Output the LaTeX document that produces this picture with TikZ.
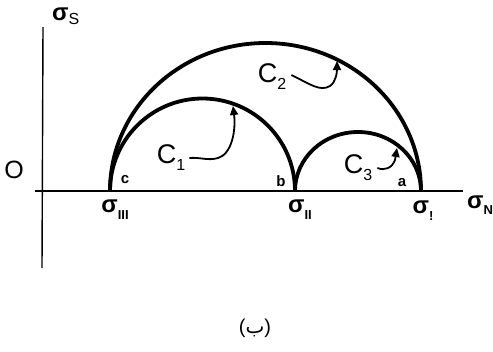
\documentclass[tikz,border=0pt]{standalone}
\usepackage{fontspec}
\setmainfont{Liberation Sans}
\newfontfamily\arabicfont[Script=Arabic]{DejaVu Sans}
\usetikzlibrary{arrows.meta}
\begin{document}
\begin{tikzpicture}[x=1pt,y=-1pt,
  axis/.style={line width=1.4pt},
  circ/.style={line width=3.8pt},
  pointer/.style={line width=1.8pt,-{Triangle[length=9pt,width=8pt]}},
  bigC/.style={font=\fontsize{27}{27}\selectfont,inner sep=0pt},
  small/.style={font=\bfseries\fontsize{15}{15}\selectfont,inner sep=0pt},
  sig/.style={font=\bfseries\fontsize{24}{24}\selectfont,inner sep=0pt}]
\useasboundingbox (0,0) rectangle (493,351);
% axes
\coordinate (ytop) at (43,27);
\coordinate (ybot) at (42,268);
\coordinate (xl) at (35,191);
\coordinate (xr) at (463,191);
\draw[axis] (ybot) -- (ytop);
\draw[axis] (xl) -- (xr);
% points
\coordinate (s3) at (110,191);
\coordinate (s2) at (295,191);
\coordinate (s1) at (421,191);
% circles
\draw[circ] (s3) arc[start angle=180,end angle=360,x radius=155.5,y radius=148];
\draw[circ] (s3) arc[start angle=180,end angle=360,x radius=92.5,y radius=92.5];
\draw[circ] (s2) arc[start angle=180,end angle=360,x radius=63,y radius=59];
% labels on axes
\node[sig,anchor=west] (ls) at (52,16) {σ\raisebox{-4pt}{\fontsize{16}{16}\selectfont\mdseries S}};
\node[font=\fontsize{25}{25}\selectfont,inner sep=0pt] (lo) at (14,170) {O};
\node[sig,anchor=west] (ln) at (467,205) {σ\raisebox{-6pt}{\fontsize{13}{13}\selectfont N}};
\node[sig] (l3) at (115,210) {σ\raisebox{-7pt}{\fontsize{13}{13}\selectfont III}};
\node[sig] (l2) at (300,210) {σ\raisebox{-7pt}{\fontsize{13}{13}\selectfont II}};
\node[sig] (l1) at (423,211) {σ\raisebox{-7pt}{\fontsize{13}{13}\selectfont !}};
\node[small] (pc) at (125,180) {c};
\node[small] (pb) at (281,181) {b};
\node[small] (pa) at (402,183) {a};
% curve labels
\node[bigC] (c1) at (171,158) {C\raisebox{-7pt}{\fontsize{16}{16}\selectfont 1}};
\node[bigC] (c2) at (272,77) {C\raisebox{-7pt}{\fontsize{16}{16}\selectfont 2}};
\node[bigC] (c3) at (358,168) {C\raisebox{-7pt}{\fontsize{16}{16}\selectfont 3}};
% pointers
\coordinate (t1) at (233,106);
\coordinate (t2) at (337,61);
\coordinate (t3) at (397,148);
\draw[pointer] ([xshift=4pt]c1.east) .. controls (200,157) and (208,161) .. (218,158) .. controls (232,154) and (236,130) .. (t1);
\draw[pointer] ([xshift=5pt,yshift=2pt]c2.east) .. controls (310,84) and (320,92) .. (330,86) .. controls (336,82) and (337,72) .. (t2);
\draw[pointer] ([xshift=5pt]c3.east) .. controls (385,171) and (392,168) .. (395,160) -- (t3);
% caption
\node[font=\fontsize{20}{20}\selectfont,inner sep=0pt] (cap) at (255,328) {{(}{\arabicfont ب}{)}};
\end{tikzpicture}
\end{document}
